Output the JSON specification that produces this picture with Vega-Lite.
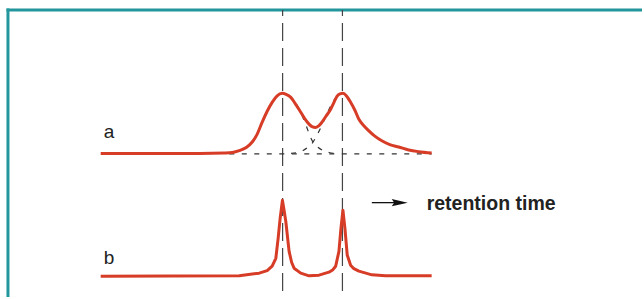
{
  "$schema": "https://vega.github.io/schema/vega-lite/v6.json",
  "width": 644,
  "height": 299,
  "padding": 0,
  "autosize": {"type": "fit", "contains": "padding"},
  "background": "white",
  "config": {"view": {"stroke": null}},
  "datasets": {
    "traceA": [
      {"t": 101, "s": 154.5}, {"t": 200, "s": 154.5}, {"t": 225, "s": 154}, {"t": 233, "s": 153.5},
      {"t": 240, "s": 151.7}, {"t": 247, "s": 148.5}, {"t": 253, "s": 143}, {"t": 258, "s": 135},
      {"t": 263, "s": 123}, {"t": 268, "s": 112}, {"t": 273, "s": 103}, {"t": 278, "s": 96.5},
      {"t": 283, "s": 94}, {"t": 287, "s": 95}, {"t": 291.7, "s": 98}, {"t": 296, "s": 104},
      {"t": 301.7, "s": 113}, {"t": 306, "s": 120}, {"t": 310, "s": 125}, {"t": 313, "s": 127.5},
      {"t": 316.7, "s": 128.3}, {"t": 320, "s": 126.5}, {"t": 323, "s": 123}, {"t": 327, "s": 117},
      {"t": 331.7, "s": 110}, {"t": 335, "s": 103}, {"t": 338, "s": 97}, {"t": 341, "s": 94.5},
      {"t": 344, "s": 94}, {"t": 347, "s": 96}, {"t": 351.7, "s": 103}, {"t": 356, "s": 111},
      {"t": 360, "s": 120}, {"t": 365, "s": 126.5}, {"t": 370, "s": 131.7}, {"t": 376, "s": 137},
      {"t": 383, "s": 141.7}, {"t": 391, "s": 145.5}, {"t": 400, "s": 148}, {"t": 410, "s": 151},
      {"t": 420, "s": 152.7}, {"t": 433, "s": 154}
    ],
    "traceB": [
      {"t": 101, "s": 278}, {"t": 240, "s": 277.7}, {"t": 260, "s": 275}, {"t": 268, "s": 272.5},
      {"t": 273, "s": 268}, {"t": 276.7, "s": 260}, {"t": 279, "s": 240}, {"t": 281, "s": 220},
      {"t": 283.3, "s": 201.7}, {"t": 285, "s": 212}, {"t": 286.7, "s": 223}, {"t": 290, "s": 253},
      {"t": 292.5, "s": 264}, {"t": 295, "s": 270}, {"t": 301.7, "s": 275}, {"t": 310, "s": 277.7},
      {"t": 320, "s": 277}, {"t": 330, "s": 274}, {"t": 334, "s": 271.5}, {"t": 336.7, "s": 268},
      {"t": 340, "s": 253}, {"t": 342, "s": 230}, {"t": 344, "s": 211.7}, {"t": 346, "s": 230},
      {"t": 348.3, "s": 256.7}, {"t": 351.7, "s": 267}, {"t": 355, "s": 270.5}, {"t": 360, "s": 273},
      {"t": 373, "s": 276.7}, {"t": 386.7, "s": 277.7}, {"t": 433, "s": 277.7}
    ],
    "components": [
      {"c": "left", "t": 290, "s": 96}, {"c": "left", "t": 296, "s": 103}, {"c": "left", "t": 302, "s": 114},
      {"c": "left", "t": 307, "s": 126}, {"c": "left", "t": 311, "s": 137}, {"c": "left", "t": 314, "s": 143},
      {"c": "left", "t": 318, "s": 147.5}, {"c": "left", "t": 324, "s": 151.5}, {"c": "left", "t": 330, "s": 153.5},
      {"c": "left", "t": 336, "s": 154.5},
      {"c": "right", "t": 292, "s": 154.5}, {"c": "right", "t": 298, "s": 153.5}, {"c": "right", "t": 304, "s": 151.5},
      {"c": "right", "t": 309, "s": 148}, {"c": "right", "t": 314, "s": 143}, {"c": "right", "t": 318, "s": 136},
      {"c": "right", "t": 322, "s": 128}, {"c": "right", "t": 327, "s": 117}, {"c": "right", "t": 333, "s": 104},
      {"c": "right", "t": 339, "s": 96}
    ],
    "baselineA": [{"t": 230, "t2": 433, "s": 155}],
    "markers": [{"t": 283.5}, {"t": 343.5}],
    "frame": [
      {"t": 8, "t2": 8, "s": 8.5, "s2": 299},
      {"t": 6.5, "t2": 644, "s": 10, "s2": 10}
    ],
    "labels": [
      {"t": 104, "s": 139, "txt": "a"},
      {"t": 104, "s": 266, "txt": "b"}
    ],
    "arrow": [{"t": 373, "t2": 397, "s": 204}],
    "arrowHead": [{"t": 401, "s": 204}],
    "caption": [{"t": 428, "s": 211.5, "txt": "retention time"}]
  },
  "encoding": {
    "x": {"field": "t", "type": "quantitative", "scale": {"domain": [0, 644]}, "axis": null},
    "y": {"field": "s", "type": "quantitative", "scale": {"domain": [0, 299], "reverse": true}, "axis": null}
  },
  "layer": [
    {
      "data": {"name": "frame"},
      "mark": {"type": "rule", "color": "#22969c", "strokeWidth": 3},
      "encoding": {"x2": {"field": "t2"}, "y2": {"field": "s2"}}
    },
    {
      "data": {"name": "markers"},
      "transform": [{"calculate": "10", "as": "s"}, {"calculate": "299", "as": "s2"}],
      "mark": {"type": "rule", "color": "#444444", "strokeWidth": 1.2, "strokeDash": [18, 7], "strokeDashOffset": 12},
      "encoding": {"y2": {"field": "s2"}}
    },
    {
      "data": {"name": "baselineA"},
      "mark": {"type": "rule", "color": "#333333", "strokeWidth": 1.2, "strokeDash": [5, 7.5]},
      "encoding": {"x2": {"field": "t2"}}
    },
    {
      "data": {"name": "components"},
      "mark": {"type": "line", "color": "#333333", "strokeWidth": 1.2, "strokeDash": [5, 7], "interpolate": "monotone"},
      "encoding": {"detail": {"field": "c"}}
    },
    {
      "data": {"name": "traceA"},
      "mark": {"type": "line", "color": "#d73c27", "strokeWidth": 3, "interpolate": "monotone"},
      "encoding": {}
    },
    {
      "data": {"name": "traceB"},
      "mark": {"type": "line", "color": "#d73c27", "strokeWidth": 3, "interpolate": "linear", "strokeJoin": "round"},
      "encoding": {}
    },
    {
      "data": {"name": "labels"},
      "mark": {"type": "text", "align": "left", "baseline": "alphabetic", "font": "Liberation Sans", "fontSize": 19, "color": "#222222"},
      "encoding": {"text": {"field": "txt"}}
    },
    {
      "data": {"name": "arrow"},
      "mark": {"type": "rule", "color": "#111111", "strokeWidth": 1.3},
      "encoding": {"x2": {"field": "t2"}}
    },
    {
      "data": {"name": "arrowHead"},
      "mark": {"type": "point", "shape": "M-1,-0.45L1,0L-1,0.45L-0.7,0Z", "size": 256, "filled": true, "color": "#111111", "opacity": 1},
      "encoding": {}
    },
    {
      "data": {"name": "caption"},
      "mark": {"type": "text", "align": "left", "baseline": "alphabetic", "font": "Liberation Sans", "fontSize": 19.5, "fontWeight": "bold", "color": "#222222"},
      "encoding": {"text": {"field": "txt"}}
    }
  ]
}
